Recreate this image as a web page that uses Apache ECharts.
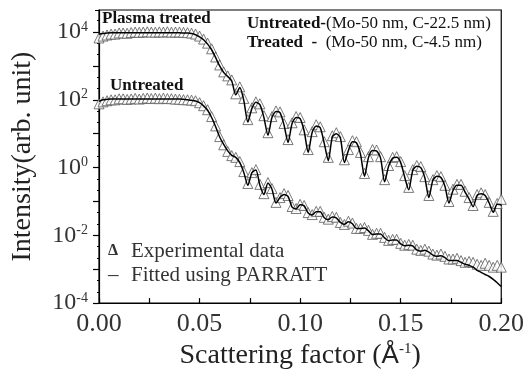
<!DOCTYPE html>
<html><head><meta charset="utf-8">
<script src="https://cdn.jsdelivr.net/npm/echarts@6/dist/echarts.min.js"></script>
<style>html,body{margin:0;padding:0;background:#fff}#c{width:527px;height:375px}</style>
</head><body><div id="c"></div>
<script>
// Scattering factor (Å^-1)
const qValues = [0,0.002,0.004,0.006,0.008,0.010,0.012,0.014,0.016,0.018,
0.020,0.022,0.024,0.026,0.028,0.030,0.032,0.034,0.036,0.038,
0.040,0.042,0.044,0.046,0.048,0.050,0.052,0.054,0.056,0.058,
0.060,0.062,0.064,0.066,0.068,0.070,0.072,0.074,0.076,0.078,
0.080,0.082,0.084,0.086,0.088,0.090,0.092,0.094,0.096,0.098,
0.100,0.102,0.104,0.106,0.108,0.110,0.112,0.114,0.116,0.118,
0.120,0.122,0.124,0.126,0.128,0.130,0.132,0.134,0.136,0.138,
0.140,0.142,0.144,0.146,0.148,0.150,0.152,0.154,0.156,0.158,
0.160,0.162,0.164,0.166,0.168,0.170,0.172,0.174,0.176,0.178,
0.180,0.182,0.184,0.186,0.188,0.190,0.192,0.194,0.196,0.198,
0.200];
// Plasma treated: experimental data
const treatedExp = [6.7e3,7.6e3,8.2e3,8.7e3,8.7e3,9.4e3,9.4e3,9.2e3,9.7e3,1.0e4,
9.8e3,1.0e4,1.02e4,1.0e4,9.9e3,1.01e4,1.0e4,1.02e4,9.9e3,1.0e4,
1.0e4,9.8e3,9.6e3,9.3e3,8.7e3,7.6e3,6.2e3,4.7e3,3.2e3,1.84e3,
1.07e3,667,508,387,150,241,110,26,58,87,
76,34,10.7,32,47,44,20,6.7,21,32,
30,13,3.4,11.5,18.4,16,5.8,2.0,8.7,10.7,
8.2,1.7,3.4,6.2,5.8,2.8,0.67,2.1,3.4,3.3,
2.1,0.44,1.15,2.0,2.1,1.5,0.58,0.26,0.87,1.15,
1.07,0.54,0.15,0.44,0.58,0.54,0.30,0.10,0.23,0.32,
0.32,0.20,0.13,0.076,0.16,0.18,0.16,0.094,0.051,0.087,
0.115];
// Plasma treated: PARRATT fit
const treatedFit = [8.7e3,9.0e3,9.3e3,9.5e3,9.5e3,9.5e3,9.5e3,9.5e3,9.5e3,9.5e3,
9.5e3,9.5e3,9.5e3,9.5e3,9.5e3,9.5e3,9.5e3,9.5e3,9.5e3,9.5e3,
9.5e3,9.4e3,9.3e3,9.0e3,8.3e3,7.2e3,5.9e3,4.4e3,3.0e3,1.75e3,
1.0e3,640,490,360,140,230,95,22,55,85,
72,30,9.0,30,45,42,18,5.5,20,30,
28,12,2.8,11,17,15,5.2,1.6,8.0,10,
7.6,1.4,3.2,5.8,5.4,2.5,0.55,2.0,3.2,3.1,
1.9,0.38,1.1,1.9,2.0,1.4,0.52,0.22,0.82,1.1,
1.0,0.50,0.13,0.42,0.55,0.51,0.28,0.09,0.21,0.30,
0.30,0.19,0.12,0.07,0.15,0.17,0.15,0.09,0.048,0.082,
0.08];
// Untreated: experimental data
const untreatedExp = [76,87,94,100,100,107,107,103,106,110,
105,110,113,109,112,108,112,109,108,105,
104,101,100,98,94,82,67,51,32,17,
8.2,4.7,3.0,2.25,2.0,1.5,0.76,0.34,0.71,0.87,
0.32,0.17,0.36,0.24,0.094,0.13,0.17,0.15,0.071,0.062,
0.082,0.076,0.047,0.041,0.051,0.051,0.034,0.030,0.036,0.034,
0.024,0.021,0.026,0.023,0.016,0.016,0.017,0.014,0.0107,0.0115,
0.0115,0.0087,0.0071,0.0076,0.0076,0.0058,0.0051,0.0054,0.0051,0.0039,
0.0036,0.0039,0.0034,0.0028,0.0026,0.0028,0.0024,0.0020,0.0020,0.0021,
0.0018,0.0016,0.0017,0.0016,0.0014,0.0013,0.0015,0.0013,0.00115,0.0013,
0.00115];
// Untreated: PARRATT fit
const untreatedFit = [90,100,103,105,105,105,105,105,105,105,
105,105,105,105,105,105,105,105,105,105,
105,103,100,97,92,82,66,49,30,16,
8.0,4.8,3.1,2.3,2.0,1.4,0.72,0.30,0.70,0.85,
0.30,0.16,0.35,0.23,0.09,0.13,0.16,0.14,0.068,0.060,
0.080,0.074,0.046,0.040,0.050,0.050,0.033,0.029,0.035,0.033,
0.024,0.021,0.025,0.022,0.016,0.016,0.0165,0.0135,0.0105,0.011,
0.011,0.0084,0.0069,0.0073,0.0073,0.0056,0.0049,0.0051,0.0049,0.0037,
0.0034,0.0036,0.0032,0.0026,0.0024,0.0025,0.0022,0.0018,0.0018,0.0018,
0.0016,0.0014,0.0013,0.00115,0.00093,0.00081,0.0007,0.00061,0.0005,0.0004,
0.00031];

const pair = arr => qValues.map((q, i) => [q, arr[i]]);
const serif = '"Liberation Serif", "Times New Roman", serif';

const chart = echarts.init(document.getElementById('c'), null, {renderer: 'canvas'});
const expStyle = {
  type: 'scatter', symbol: 'triangle', symbolSize: 10,
  itemStyle: {color: '#ffffff', borderColor: '#5a5a5a', borderWidth: 1},
  z: 2, silent: true
};
const fitStyle = {
  type: 'line', showSymbol: false, symbol: 'none', smooth: 0.25,
  lineStyle: {color: '#000', width: 1.5}, z: 3, silent: true
};
chart.setOption({
  animation: false,
  backgroundColor: '#fff',
  grid: {left: 99, right: 25, top: 10, bottom: 71, show: true, borderColor: '#000', borderWidth: 1.2, backgroundColor: 'transparent'},
  xAxis: {
    type: 'value', min: 0, max: 0.2, interval: 0.05,
    name: '{a|Scattering factor (}{c|Å}{s|-1}{a|)}',
    nameLocation: 'middle', nameGap: 28,
    nameTextStyle: {rich: {
      a: {fontFamily: serif, fontSize: 28, color: '#222'},
      c: {fontFamily: '"Liberation Sans", Arial, sans-serif', fontSize: 26, color: '#222'},
      s: {fontFamily: serif, fontSize: 15, color: '#222', verticalAlign: 'top', lineHeight: 15}
    }},
    axisLine: {onZero: false, lineStyle: {color: '#000', width: 1.2}},
    axisTick: {inside: true, length: 5, lineStyle: {color: '#000', width: 1.2}},
    minorTick: {show: true, splitNumber: 2, length: 5, lineStyle: {color: '#000', width: 1.2}},
    splitLine: {show: false},
    axisLabel: {fontFamily: serif, fontSize: 26, color: '#333', margin: 8,
      formatter: v => v.toFixed(2)}
  },
  yAxis: [{
    type: 'log', logBase: 10, min: 1e-4, max: 44700,
    name: 'Intensity(arb. unit)', nameLocation: 'middle', nameGap: 62,
    nameTextStyle: {fontFamily: serif, fontSize: 28, color: '#222'},
    axisLine: {lineStyle: {color: '#000', width: 1.2}},
    axisTick: {length: 6, lineStyle: {color: '#000', width: 1.2}},
    splitLine: {show: false},
    axisLabel: {
      margin: 11, showMaxLabel: false,
      formatter: function (v) {
        const l = Math.log10(v), e = Math.round(l);
        if (Math.abs(l - e) > 0.01 || e % 2 !== 0) return '';
        return '{b|10}{s|' + e + '}';
      },
      rich: {
        b: {fontFamily: serif, fontSize: 24, color: '#333', lineHeight: 24},
        s: {fontFamily: serif, fontSize: 14, color: '#333', verticalAlign: 'top', lineHeight: 14}
      }
    }
  }, {
    // decade ticks (log10 of intensity) drawn on the same left edge
    type: 'value', min: -4, max: 4.65, interval: 1, position: 'left',
    axisLine: {show: false, onZero: false}, axisLabel: {show: false}, splitLine: {show: false},
    axisTick: {length: 4, lineStyle: {color: '#000', width: 1}},
    minorTick: {show: true, splitNumber: 3, length: 2, lineStyle: {color: '#000', width: 1}}
  }],
  series: [
    Object.assign({name: 'Plasma treated (exp)', data: pair(treatedExp)}, expStyle),
    Object.assign({name: 'Untreated (exp)', data: pair(untreatedExp)}, expStyle),
    Object.assign({name: 'Plasma treated (fit)', data: pair(treatedFit)}, fitStyle),
    Object.assign({name: 'Untreated (fit)', data: pair(untreatedFit)}, fitStyle)
  ],
  graphic: [
    {type: 'text', left: 102, top: 10, z: 10, style: {text: 'Plasma treated', font: 'bold 17px ' + serif, fill: '#111'}},
    {type: 'text', left: 110, top: 77, z: 10, style: {text: 'Untreated', font: 'bold 17px ' + serif, fill: '#111'}},
    {type: 'text', left: 247, top: 15, z: 10, style: {
      text: '{b|Untreated-}{n|(Mo-50 nm, C-22.5 nm)}',
      rich: {b: {fontFamily: serif, fontWeight: 'bold', fontSize: 17, fill: '#111'}, n: {fontFamily: serif, fontSize: 17, fill: '#111'}}}},
    {type: 'text', left: 247, top: 34, z: 10, style: {
      text: '{b|Treated  -}{n|  (Mo-50 nm, C-4.5 nm)}',
      rich: {b: {fontFamily: serif, fontWeight: 'bold', fontSize: 17, fill: '#111'}, n: {fontFamily: serif, fontSize: 17, fill: '#111'}}}},
    {type: 'text', left: 108, top: 243, z: 10, style: {text: 'Δ', font: 'bold 16px ' + serif, fill: '#333'}},
    {type: 'text', left: 131, top: 241, z: 10, style: {text: 'Experimental data', font: '21px ' + serif, fill: '#333'}},
    {type: 'text', left: 108, top: 265, z: 10, style: {text: '–', font: '21px ' + serif, fill: '#333'}},
    {type: 'text', left: 131, top: 265, z: 10, style: {text: 'Fitted using PARRATT', font: '21px ' + serif, fill: '#333'}}
  ]
});
</script></body></html>
